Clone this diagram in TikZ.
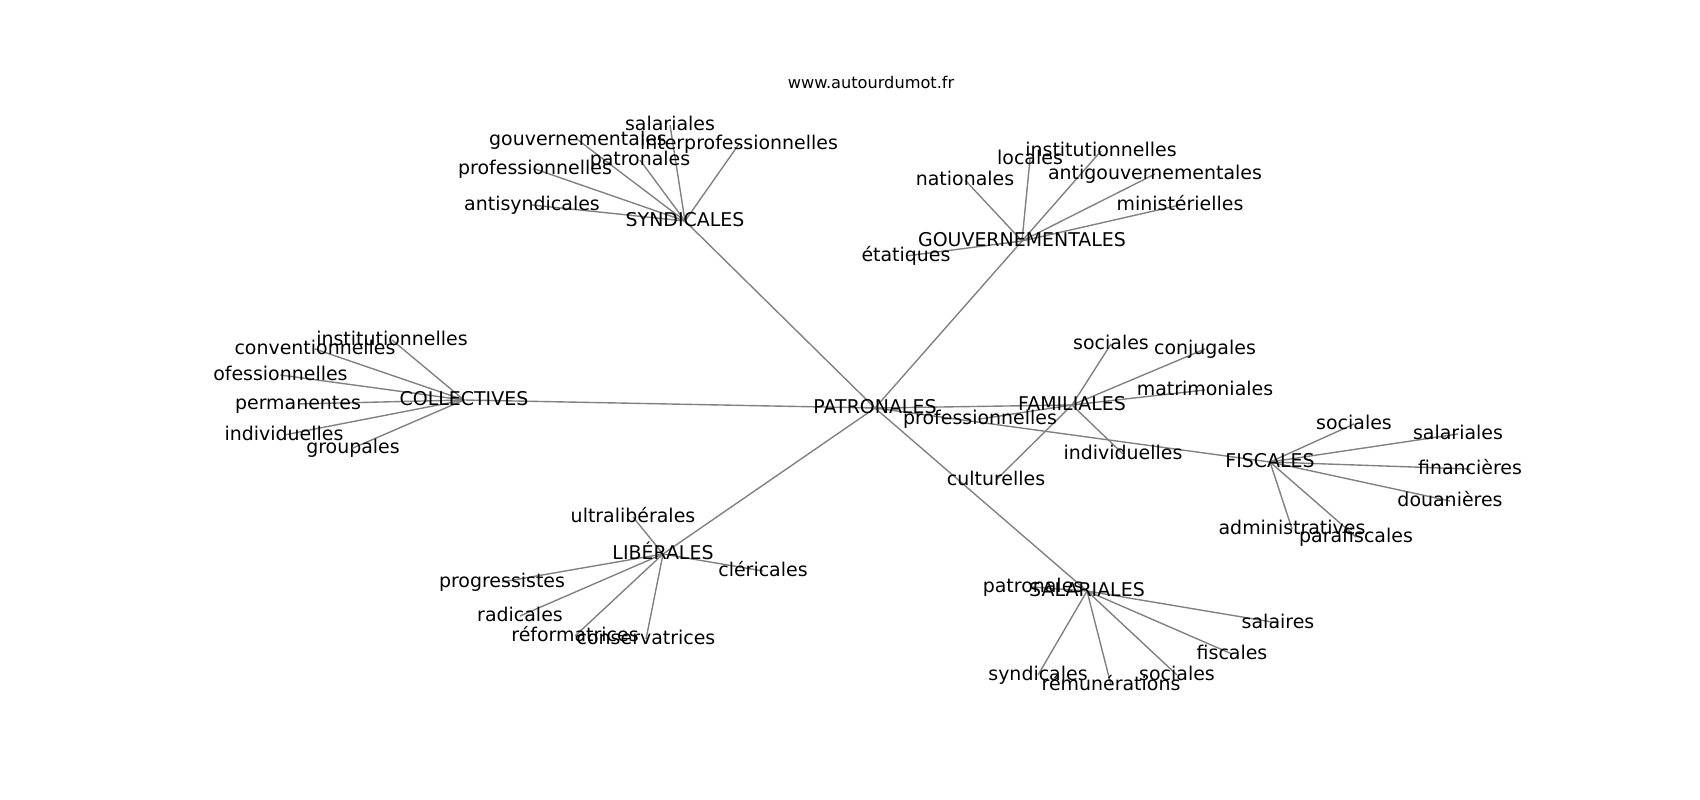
\documentclass[tikz,border=0pt]{standalone}
\usepackage{fontspec}
\setmainfont{DejaVu Sans}
\usepackage{tikz}
\usetikzlibrary{backgrounds}
\tikzset{
    mynode/.style = {inner sep=0, text height=0.89em, text depth=0.11em, font=\fontsize{13.7}{16}\selectfont},
    mytitle/.style = {inner sep=0, text height=0.89em, text depth=0.11em, font=\fontsize{11.7}{14}\selectfont},
    edgeg/.style = {line width=1pt,gray}
}
\begin{document}
\begin{tikzpicture}[x=0.0254cm,y=-0.0254cm]
\useasboundingbox (0,0) rectangle (1700,800);

\node[mytitle] at (871, 83) (title) {www.autourdumot.fr};

% hubs
\node[mynode] at (875, 408) (pat) {PATRONALES};
\node[mynode] at (685, 221) (syn) {SYNDICALES};
\node[mynode] at (1022, 241) (gouv) {GOUVERNEMENTALES};
\node[mynode] at (464, 400) (coll) {COLLECTIVES};
\node[mynode] at (1072, 405) (fam) {FAMILIALES};
\node[mynode] at (1270, 462) (fisc) {FISCALES};
\node[mynode] at (663, 554) (lib) {LIBÉRALES};
\node[mynode] at (1087, 591) (sal) {SALARIALES};
% syndicales
\node[mynode] at (670, 125) (s1) {salariales};
\node[mynode] at (578, 140) (s2) {gouvernementales};
\node[mynode] at (739, 144) (s3) {interprofessionnelles};
\node[mynode] at (640, 160) (s4) {patronales};
\node[mynode] at (535, 169) (s5) {professionnelles};
\node[mynode] at (532, 205) (s6) {antisyndicales};
% gouvernementales
\node[mynode] at (1030, 159) (g1) {locales};
\node[mynode] at (1101, 151) (g2) {institutionnelles};
\node[mynode] at (965, 180) (g3) {nationales};
\node[mynode] at (1155, 174) (g4) {antigouvernementales};
\node[mynode] at (1180, 205) (g5) {ministérielles};
\node[mynode] at (906, 256) (g6) {étatiques};
% collectives
\node[mynode] at (392, 340) (c1) {institutionnelles};
\node[mynode] at (315, 349) (c2) {conventionnelles};
\node[mynode,anchor=west] at (213, 375) (c3) {ofessionnelles};
\node[mynode] at (298, 404) (c4) {permanentes};
\node[mynode] at (284, 435) (c5) {individuelles};
\node[mynode] at (353, 448) (c6) {groupales};
% familiales
\node[mynode] at (1111, 344) (f1) {sociales};
\node[mynode] at (1205, 349) (f2) {conjugales};
\node[mynode] at (1205, 390) (f3) {matrimoniales};
\node[mynode] at (980, 419) (f4) {professionnelles};
\node[mynode] at (1123, 454) (f5) {individuelles};
\node[mynode] at (996, 480) (f6) {culturelles};
% fiscales
\node[mynode] at (1354, 424) (x1) {sociales};
\node[mynode] at (1458, 434) (x2) {salariales};
\node[mynode] at (1470, 469) (x3) {financières};
\node[mynode] at (1450, 501) (x4) {douanières};
\node[mynode] at (1292, 529) (x5) {administratives};
\node[mynode] at (1356, 537) (x6) {parafiscales};
% liberales
\node[mynode] at (633, 517) (l1) {ultralibérales};
\node[mynode] at (763, 571) (l2) {cléricales};
\node[mynode] at (502, 582) (l3) {progressistes};
\node[mynode] at (520, 616) (l4) {radicales};
\node[mynode] at (575, 636) (l5) {réformatrices};
\node[mynode] at (646, 639) (l6) {conservatrices};
% salariales
\node[mynode] at (1033, 587) (a1) {patronales};
\node[mynode] at (1278, 623) (a2) {salaires};
\node[mynode] at (1232, 654) (a3) {fiscales};
\node[mynode] at (1038, 675) (a4) {syndicales};
\node[mynode] at (1111, 685) (a5) {rémunérations};
\node[mynode] at (1177, 675) (a6) {sociales};
%
\begin{scope}[on background layer]
\draw[edgeg] (pat.center) edge (syn.center) edge (gouv.center) edge (coll.center)
    edge (fam.center) edge (fisc.center) edge (lib.center) edge (sal.center);
\draw[edgeg] (syn.center) edge (s1.center) edge (s2.center) edge (s3.center)
    edge (s4.center) edge (s5.center) edge (s6.center);
\draw[edgeg] (gouv.center) edge (g1.center) edge (g2.center) edge (g3.center)
    edge (g4.center) edge (g5.center) edge (g6.center);
\draw[edgeg] (coll.center) edge (c1.center) edge (c2.center) edge (c3.center)
    edge (c4.center) edge (c5.center) edge (c6.center);
\draw[edgeg] (fam.center) edge (f1.center) edge (f2.center) edge (f3.center)
    edge (f4.center) edge (f5.center) edge (f6.center);
\draw[edgeg] (fisc.center) edge (x1.center) edge (x2.center) edge (x3.center)
    edge (x4.center) edge (x5.center) edge (x6.center);
\draw[edgeg] (lib.center) edge (l1.center) edge (l2.center) edge (l3.center)
    edge (l4.center) edge (l5.center) edge (l6.center);
\draw[edgeg] (sal.center) edge (a1.center) edge (a2.center) edge (a3.center)
    edge (a4.center) edge (a5.center) edge (a6.center);
\end{scope}

\end{tikzpicture}
\end{document}
